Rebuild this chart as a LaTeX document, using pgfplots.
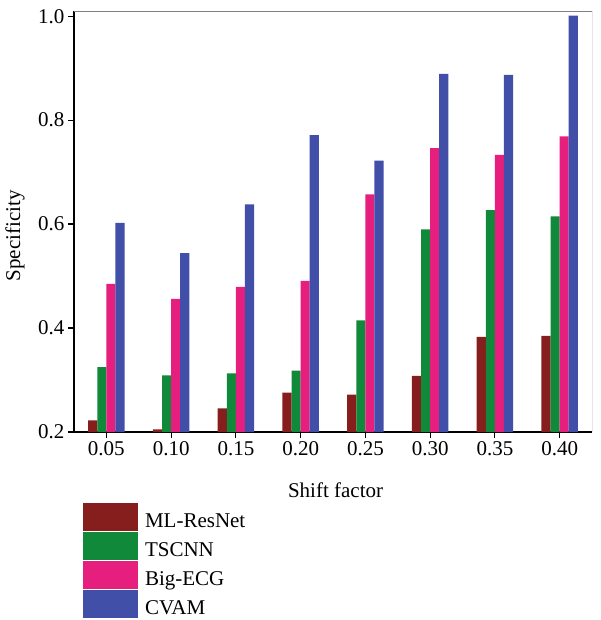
\documentclass[border=0pt]{standalone}
\usepackage{fontspec}
\setmainfont{Liberation Serif}
\usepackage{pgfplots}
\pgfplotsset{compat=1.18}
\definecolor{cA}{RGB}{133,30,29}
\definecolor{cB}{RGB}{17,137,58}
\definecolor{cC}{RGB}{230,30,126}
\definecolor{cD}{RGB}{66,79,168}
\begin{document}
\begin{tikzpicture}[font=\fontsize{21}{25}\selectfont]
\begin{axis}[
  scale only axis, width=518pt, height=421pt,
  xmin=-0.5, xmax=7.5, ymin=0.2, ymax=1.01,
  axis lines=left, axis line style={-, line width=1.2pt, black},
  tick align=outside, tick pos=left, major tick length=6pt,
  every tick/.style={line width=1.2pt, black},
  /pgf/number format/assume math mode=true,
  xtick={0,1,2,3,4,5,6,7},
  xticklabels={0.05,0.10,0.15,0.20,0.25,0.30,0.35,0.40},
  ytick={0.2,0.4,0.6,0.8,1.0},
  yticklabel style={/pgf/number format/fixed, /pgf/number format/precision=1, /pgf/number format/fixed zerofill},
  xlabel={Shift factor}, ylabel={Specificity},
  xlabel style={at={(rel axis cs:0.505,-0.138)}, anchor=center},
  ylabel style={at={(rel axis cs:-0.114,0.466)}, anchor=center},
  legend style={at={(rel axis cs:0.0174,-0.1686)}, anchor=north west, draw=none, fill=none,
    inner sep=0pt, outer sep=0pt, row sep=1pt, column sep=7pt,
    nodes={inner sep=0pt, outer sep=0pt}},
  legend cell align=left,
  legend image code/.code={\fill[#1] (0pt,-10pt) rectangle (55pt,18pt);},
]
\addplot[ybar, bar width=0.14, bar shift=-0.21, fill=cA, draw=none] coordinates {
 (0,0.2225) (1,0.205) (2,0.2455) (3,0.2756) (4,0.272) (5,0.308) (6,0.383) (7,0.385)};
\addplot[ybar, bar width=0.14, bar shift=-0.07, fill=cB, draw=none] coordinates {
 (0,0.325) (1,0.309) (2,0.313) (3,0.318) (4,0.415) (5,0.590) (6,0.627) (7,0.615)};
\addplot[ybar, bar width=0.14, bar shift=0.07, fill=cC, draw=none] coordinates {
 (0,0.485) (1,0.456) (2,0.479) (3,0.491) (4,0.657) (5,0.746) (6,0.733) (7,0.769)};
\addplot[ybar, bar width=0.14, bar shift=0.21, fill=cD, draw=none] coordinates {
 (0,0.6025) (1,0.544) (2,0.638) (3,0.771) (4,0.722) (5,0.889) (6,0.887) (7,1.001)};
\legend{ML-ResNet,TSCNN,Big-ECG,CVAM}
\draw[gray, line width=0.8pt] (rel axis cs:0,1) -- (rel axis cs:1,1);
\draw[black!80, line width=0.8pt] (rel axis cs:1,1) -- (rel axis cs:1,0);
\end{axis}
\pgfresetboundingbox
\path[use as bounding box] (current axis.south west) ++(-74pt,-188pt) rectangle ++(600pt,620pt);
\end{tikzpicture}
\end{document}
